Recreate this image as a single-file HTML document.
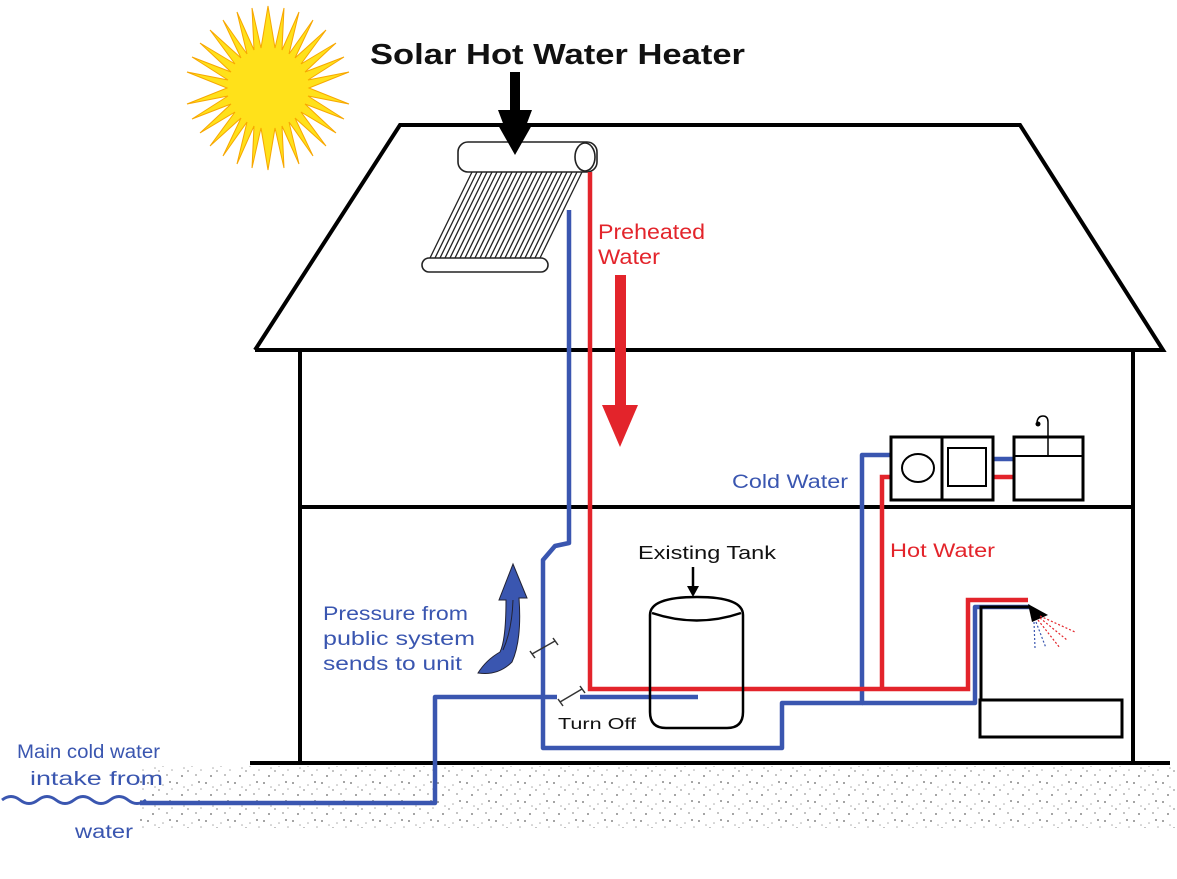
<!DOCTYPE html>
<html><head><meta charset="utf-8"><style>
body{margin:0;background:#fff}
svg{display:block}
text{font-family:"Liberation Sans",sans-serif}
</style></head><body>
<svg width="1177" height="879" viewBox="0 0 1177 879" xmlns="http://www.w3.org/2000/svg">
<defs>
<pattern id="sp" width="29" height="19" patternUnits="userSpaceOnUse">
<circle cx="3" cy="4" r="1" fill="#888"/><circle cx="14" cy="11" r="0.9" fill="#999"/><circle cx="25" cy="3" r="1" fill="#888"/><circle cx="22" cy="15" r="0.9" fill="#999"/><circle cx="8" cy="16" r="1" fill="#888"/><circle cx="18" cy="6" r="0.8" fill="#aaa"/><circle cx="27" cy="10" r="0.8" fill="#aaa"/><circle cx="10" cy="8" r="0.8" fill="#aaa"/>
</pattern>
</defs>
<rect x="140" y="766" width="1035" height="62" fill="url(#sp)"/>
<!-- sun -->
<g transform="translate(268,88)">
<polygon fill="#ffe11a" stroke="#f7a700" stroke-width="1" points="
0,-82 7,-40 16,-80 14,-38 31,-76 21,-34 45,-68 27,-30 58,-58 33,-24 68,-45 37,-16 76,-31 40,-8 81,-16 41,0 81,16 40,8 76,31 37,16 68,45 33,24 58,58 27,30 45,68 21,34 31,76 14,38 16,80 7,40 0,82 -7,40 -16,80 -14,38 -31,76 -21,34 -45,68 -27,30 -58,58 -33,24 -68,45 -37,16 -76,31 -40,8 -81,16 -41,0 -81,-16 -40,-8 -76,-31 -37,-16 -68,-45 -33,-24 -58,-58 -27,-30 -45,-68 -21,-34 -31,-76 -14,-38 -16,-80 -7,-40"/>
<circle r="38" fill="#ffe11a"/>
</g>
<text x="370" y="64" font-size="29" font-weight="bold" fill="#111" textLength="375" lengthAdjust="spacingAndGlyphs">Solar Hot Water Heater</text>
<polygon points="510,72 520,72 520,110 532,110 515,155 498,110 510,110" fill="#000"/>
<!-- house -->
<g stroke="#000" stroke-width="4" fill="none">
<polyline points="255,350 400,125 1020,125 1163,350 255,350"/>
<line x1="300" y1="350" x2="300" y2="763"/>
<line x1="1133" y1="350" x2="1133" y2="763"/>
<line x1="300" y1="507" x2="1133" y2="507"/>
<line x1="250" y1="763" x2="1170" y2="763"/>
</g>
<!-- collector -->
<g stroke="#222" stroke-width="1.6" fill="#fff">
<g fill="none" stroke-width="1.3">
<line x1="472" y1="172" x2="430" y2="258"/><line x1="477" y1="172" x2="435" y2="258"/>
<line x1="482" y1="172" x2="440" y2="258"/><line x1="487" y1="172" x2="445" y2="258"/>
<line x1="492" y1="172" x2="450" y2="258"/><line x1="497" y1="172" x2="455" y2="258"/>
<line x1="502" y1="172" x2="460" y2="258"/><line x1="507" y1="172" x2="465" y2="258"/>
<line x1="512" y1="172" x2="470" y2="258"/><line x1="517" y1="172" x2="475" y2="258"/>
<line x1="522" y1="172" x2="480" y2="258"/><line x1="527" y1="172" x2="485" y2="258"/>
<line x1="532" y1="172" x2="490" y2="258"/><line x1="537" y1="172" x2="495" y2="258"/>
<line x1="542" y1="172" x2="500" y2="258"/><line x1="547" y1="172" x2="505" y2="258"/>
<line x1="552" y1="172" x2="510" y2="258"/><line x1="557" y1="172" x2="515" y2="258"/>
<line x1="562" y1="172" x2="520" y2="258"/><line x1="567" y1="172" x2="525" y2="258"/>
<line x1="572" y1="172" x2="530" y2="258"/><line x1="577" y1="172" x2="535" y2="258"/>
<line x1="582" y1="172" x2="540" y2="258"/>
</g>
<rect x="458" y="142" width="139" height="30" rx="10"/>
<ellipse cx="585" cy="157" rx="10" ry="14"/>
<rect x="422" y="258" width="126" height="14" rx="7"/>
</g>
<polygon points="510,140 520,140 520,125 532,125 515,155 498,125 510,125" fill="#000"/>
<!-- red preheated arrow -->
<polygon points="615,275 626,275 626,405 638,405 620,447 602,405 615,405" fill="#e3242b"/>
<text x="598" y="239" font-size="21" fill="#e3242b" textLength="107" lengthAdjust="spacingAndGlyphs">Preheated</text>
<text x="598" y="264" font-size="21" fill="#e3242b" textLength="62" lengthAdjust="spacingAndGlyphs">Water</text>
<!-- blue pipes -->
<g stroke="#3a56b0" stroke-width="4.5" fill="none" stroke-linejoin="round">
<polyline points="569,210 569,543 555,546 543,560 543,748 782,748 782,703 862,703 862,455 893,455"/>
<polyline points="862,703 975,703 975,607 1030,607"/>
<polyline points="140,803 435,803 435,697 557,697"/>
<line x1="580" y1="697" x2="698" y2="697"/>
<line x1="993" y1="459" x2="1014" y2="459"/>
<path d="M2,800 q9,-7 18,0 t18,0 t18,0 t18,0 t18,0 t18,0 t18,0 t18,0" stroke-width="3"/>
</g>
<!-- red pipes -->
<g stroke="#e3242b" stroke-width="4.5" fill="none">
<polyline points="590,172 590,689 880,689 968,689 968,600 1028,600"/>
<polyline points="882,689 882,477 893,477"/>
<line x1="993" y1="477" x2="1014" y2="477"/>
</g>
<!-- valves -->
<g stroke="#333" stroke-width="1.5">
<line x1="532" y1="654" x2="555" y2="641"/><line x1="530" y1="651" x2="535" y2="658"/><line x1="553" y1="638" x2="558" y2="645"/>
<line x1="560" y1="702" x2="582" y2="689"/><line x1="558" y1="699" x2="563" y2="706"/><line x1="580" y1="686" x2="585" y2="693"/>
</g>
<!-- tank -->
<g stroke="#000" stroke-width="2.5" fill="none">
<path d="M650,615 Q650,597 697,597 Q743,597 743,615 L743,712 Q743,728 727,728 L666,728 Q650,728 650,712 Z"/>
<path d="M652,613 Q697,628 741,613"/>
</g>
<line x1="693" y1="567" x2="693" y2="588" stroke="#000" stroke-width="2.5"/>
<polygon points="687,586 699,586 693,597" fill="#000"/>
<text x="638" y="559" font-size="18" fill="#111" textLength="138" lengthAdjust="spacingAndGlyphs">Existing Tank</text>
<text x="558" y="729" font-size="16" fill="#111" textLength="78" lengthAdjust="spacingAndGlyphs">Turn Off</text>
<!-- blue curved arrow -->
<path d="M478,673 Q486,660 500,652 Q506,640 506,600 L499,600 L513,564 L527,598 L519,598 Q522,640 512,662 Q498,676 478,673 Z" fill="#3a56b0" stroke="#223" stroke-width="1"/>
<path d="M503,650 Q512,630 513,600" stroke="#223" stroke-width="1" fill="none"/>
<text x="323" y="620" font-size="19" fill="#3a56b0" textLength="145" lengthAdjust="spacingAndGlyphs">Pressure from</text>
<text x="323" y="645" font-size="19" fill="#3a56b0" textLength="152" lengthAdjust="spacingAndGlyphs">public  system</text>
<text x="323" y="670" font-size="19" fill="#3a56b0" textLength="139" lengthAdjust="spacingAndGlyphs">sends to unit</text>
<text x="732" y="488" font-size="19" fill="#3a56b0" textLength="116" lengthAdjust="spacingAndGlyphs">Cold Water</text>
<text x="890" y="557" font-size="19" fill="#e3242b" textLength="105" lengthAdjust="spacingAndGlyphs">Hot Water</text>
<text x="17" y="758" font-size="19" fill="#3a56b0" textLength="143" lengthAdjust="spacingAndGlyphs">Main cold water</text>
<text x="30" y="785" font-size="19" fill="#3a56b0" textLength="133" lengthAdjust="spacingAndGlyphs">intake from</text>
<text x="75" y="838" font-size="19" fill="#3a56b0" textLength="58" lengthAdjust="spacingAndGlyphs">water</text>
<!-- appliances -->
<g stroke="#000" stroke-width="3" fill="#fff">
<rect x="891" y="437" width="102" height="63"/>
<line x1="942" y1="437" x2="942" y2="500"/>
<rect x="1014" y="437" width="69" height="63"/>
<line x1="1014" y1="456" x2="1083" y2="456" stroke-width="2"/>
</g>
<ellipse cx="918" cy="468" rx="16" ry="14" fill="none" stroke="#000" stroke-width="2"/>
<rect x="948" y="448" width="38" height="38" fill="none" stroke="#000" stroke-width="2"/>
<path d="M1048,456 L1048,422 Q1048,416 1043,416 Q1038,416 1037,422" fill="none" stroke="#000" stroke-width="1.5"/>
<circle cx="1038" cy="424" r="2.5" fill="#000"/>
<!-- shower / tub -->
<g stroke="#000" stroke-width="3" fill="none">
<polyline points="981,700 981,607 1030,607"/>
<rect x="980" y="700" width="142" height="37"/>
</g>
<polygon points="1028,604 1048,615 1032,622" fill="#000"/>
<g stroke-width="1.2" stroke-dasharray="2,2">
<line x1="1040" y1="616" x2="1075" y2="632" stroke="#e3242b"/>
<line x1="1038" y1="620" x2="1060" y2="648" stroke="#e3242b"/>
<line x1="1036" y1="622" x2="1046" y2="648" stroke="#3a56b0"/>
<line x1="1034" y1="622" x2="1035" y2="648" stroke="#3a56b0"/>
<line x1="1040" y1="618" x2="1067" y2="640" stroke="#e3242b"/>
</g>
</svg>
</body></html>
